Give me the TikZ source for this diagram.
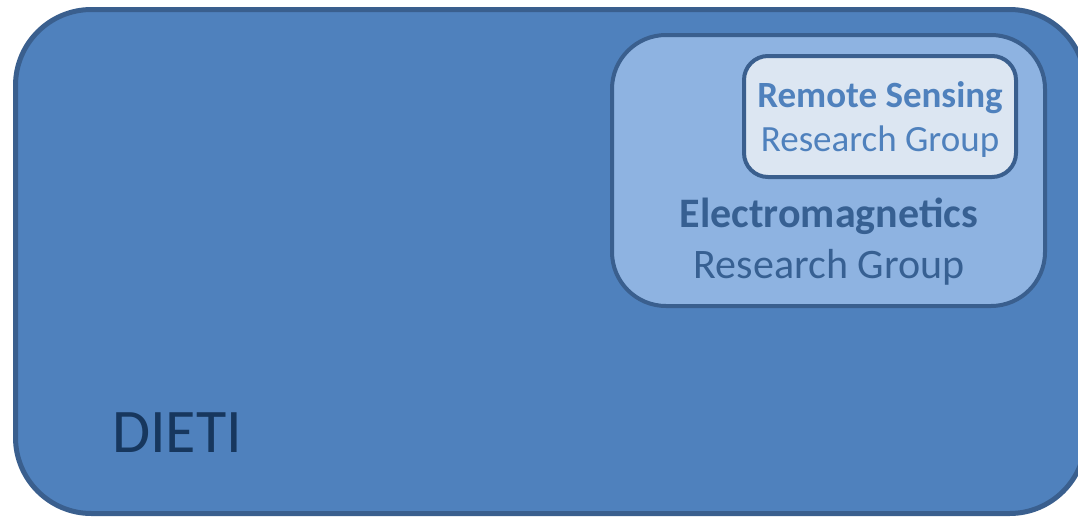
\documentclass[tikz,border=0pt]{standalone}
\usepackage{fontspec}
\setmainfont{Carlito}
\definecolor{outerfill}{HTML}{4F81BD}
\definecolor{edgeblue}{HTML}{3A5F8E}
\definecolor{midfill}{HTML}{8EB3E1}
\definecolor{innerfill}{HTML}{DCE6F2}
\definecolor{rstext}{HTML}{4F81BD}
\definecolor{emtext}{HTML}{376092}
\definecolor{dietitext}{HTML}{17375E}
\tikzset{
  groupbox/.style={draw=edgeblue, rectangle, anchor=north west, inner sep=0pt, outer sep=0pt},
  lbl/.style={anchor=base, inner sep=0pt}
}
\begin{document}
\begin{tikzpicture}[x=1pt,y=-1pt]
\useasboundingbox (0,0) rectangle (1078,517);
\clip (0,0) rectangle (1078,517);
\node[groupbox, fill=outerfill, line width=5pt, rounded corners=76pt,
      minimum width=1070pt, minimum height=504pt] (dieti) at (15.5,9.5) {};
\node[groupbox, fill=midfill, line width=4pt, rounded corners=54pt,
      minimum width=433pt, minimum height=271pt] (em) at (612,35) {};
\node[groupbox, fill=innerfill, line width=4pt, rounded corners=24pt,
      minimum width=272pt, minimum height=121pt] (rs) at (744,56) {};
\node[lbl, text=rstext, font=\fontsize{37}{42}\selectfont\bfseries] (rs1) at (880,107) {Remote Sensing};
\node[lbl, text=rstext, font=\fontsize{37}{42}\selectfont] (rs2) at (880,151) {Research Group};
\node[lbl, text=emtext, font=\fontsize{42}{48}\selectfont\bfseries] (em1) at (829,227) {Electromagnetics};
\node[lbl, text=emtext, font=\fontsize{42}{48}\selectfont] (em2) at (829,278) {Research Group};
\node[lbl, anchor=base west, text=dietitext, font=\fontsize{62}{68}\selectfont] (dl) at (112,452) {DIETI};
\end{tikzpicture}
\end{document}
